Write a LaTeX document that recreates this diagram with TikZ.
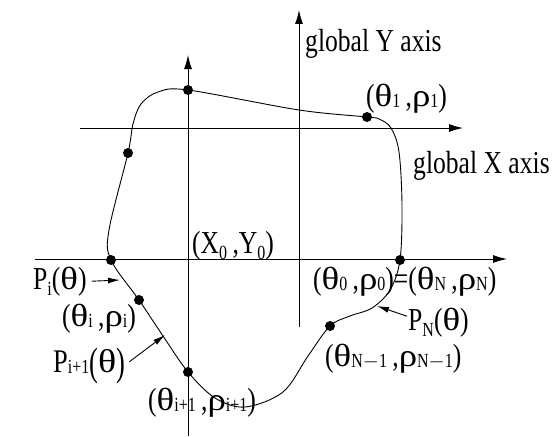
\documentclass[tikz,border=0pt]{standalone}
\usepackage{fontspec}
\usepackage{graphicx}
\setmainfont{Liberation Serif}[FakeStretch=0.8]
\newfontfamily\grk{Liberation Serif}[FakeStretch=1.15]
\usetikzlibrary{arrows.meta}
\newcommand{\lowsub}[1]{\raisebox{-0.2em}{\fontsize{20}{20}\selectfont #1}}
\newcommand{\thsub}[1]{\raisebox{-0.06em}{\fontsize{20}{20}\selectfont #1}}
\newcommand{\gth}{{\grk θ}}
\newcommand{\grh}{{\grk ρ}}
\newcommand{\tallpar}[1]{\raisebox{-0.1em}{\scalebox{1}[1.2]{#1}}}

\begin{document}
\begin{tikzpicture}[
    x=1pt, y=-1pt,
    dot node/.style={circle, fill=black, inner sep=0pt, minimum size=10pt},
    lbl node/.style={inner sep=1pt, anchor=base west, font=\fontsize{32}{32}\selectfont},
    big node/.style={lbl node, font=\fontsize{33}{33}\selectfont},
    axis line/.style={line width=1pt, -{Latex[length=14pt, width=8pt]}},
    ptr line/.style={line width=0.9pt, -{Latex[length=12pt, width=6pt]}},
    curve line/.style={line width=0.9pt}
]
\useasboundingbox (0,0) rectangle (553,436);

% global and local axes
\coordinate (GXs) at (80,128);  \coordinate (GXe) at (463,128);
\coordinate (GYs) at (299,327); \coordinate (GYe) at (299,10);
\coordinate (LXs) at (35,259);  \coordinate (LXe) at (507,259);
\coordinate (LYs) at (188,436); \coordinate (LYe) at (188,55);
\foreach \a in {GX, GY, LX, LY} \draw[axis line] (\a s) -- (\a e);

% knots on the contour
\node[dot node] (P0)  at (400,260) {};
\node[dot node] (P1)  at (367,117) {};
\node[dot node] (Ptop) at (188,90) {};
\node[dot node] (Pl)  at (128,153) {};
\node[dot node] (Pa)  at (111,260) {};
\node[dot node] (Pi)  at (139,300) {};
\node[dot node] (Pi1) at (188,372) {};
\node[dot node] (PN1) at (330,326) {};

% closed contour
\draw[curve line] plot[smooth cycle, tension=0.55] coordinates {
    (P0) (402,205) (399,152) (391,128) (379,119) (P1) (299,110) (Ptop)
    (158,92) (141,104) (133,124) (Pl) (109,230) (Pa) (Pi) (163,336) (Pi1)
    (215,398) (245,407) (283,392) (308,356) (PN1) (350,316) (372,308) (390,290)};

% labels
\node[lbl node] (GYlab) at (304,52)  {global Y axis};
\node[lbl node] (GXlab) at (412,173) {global X axis};
\node[lbl node] (L1)    at (365,106) {(\gth\thsub{1}\,,\grh\thsub{1})};
\node[lbl node] (L0)    at (191,253) {(X\lowsub{0}\,,Y\lowsub{0})};
\node[lbl node] (LN)    at (312,289) {(\gth\thsub{0}\,,\grh\thsub{0})=(\gth\thsub{N}\,,\grh\thsub{N})};
\node[lbl node] (Li)    at (61,326)  {(\gth\thsub{i}\,,\grh\thsub{i})};
\node[lbl node] (Li1)   at (147,410) {(\gth\thsub{i+1}\,,\grh\thsub{i+1})};
\node[lbl node] (LN1)   at (324,366) {(\gth\thsub{N$-$1}\,,\grh\thsub{N$-$1})};

% curve pieces and their pointers
\node[lbl node] (lPi)  at (32,289)  {P\lowsub{i}(\gth)};
\node[big node] (lPi1) at (52,372)  {P\thsub{i+1}\tallpar{(}\gth\tallpar{)}};
\node[lbl node] (lPN)  at (407,330) {P\lowsub{N}(\gth)};
\coordinate (tPi)  at (120,280);
\coordinate (tPi1) at (165,335);
\coordinate (tPN)  at (377,306);
\draw[ptr line] ([xshift=4pt]lPi.east) -- (tPi);
\draw[ptr line] ([xshift=3pt, yshift=4pt]lPi1.east) -- (tPi1);
\draw[ptr line] ([yshift=6pt]lPN.west) -- (tPN);

\end{tikzpicture}
\end{document}
